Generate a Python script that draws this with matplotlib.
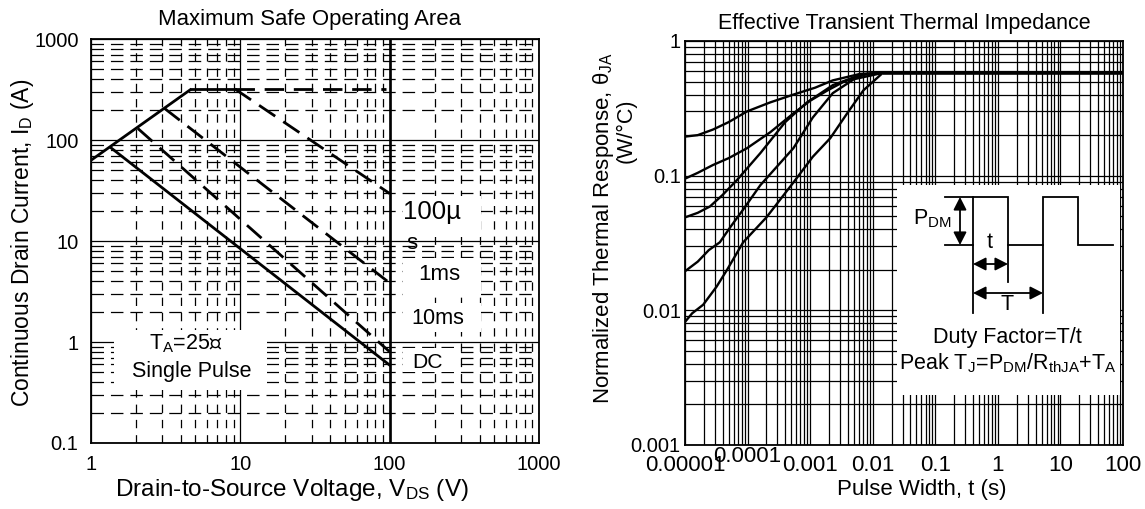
import matplotlib
matplotlib.use("Agg")
import matplotlib.pyplot as plt
from matplotlib.patches import Rectangle, FancyArrowPatch
from matplotlib.ticker import LogLocator, NullFormatter, FixedLocator, FixedFormatter
import matplotlib.transforms as mtransforms

plt.rcParams['font.family'] = ['Liberation Sans', 'DejaVu Sans']
plt.rcParams['lines.scale_dashes'] = False
plt.rcParams['mathtext.fontset'] = 'custom'
plt.rcParams['mathtext.rm'] = 'Liberation Sans'
plt.rcParams['mathtext.it'] = 'Liberation Sans'

# ---------------- data: Maximum Safe Operating Area ----------------
rds_v = [1.0, 4.7]
rds_i = [63, 320]
top_v = [4.7, 9.2]
top_i = [320, 320]
top_dash_v = [9.2, 95]
top_dash_i = [320, 320]
us100_v = [9.2, 100]
us100_i = [320, 29.5]
ms1_v = [3.1, 100]
ms1_i = [206, 3.84]
ms10_v = [2.06, 100]
ms10_i = [130, 0.80]
dc_v = [1.37, 100]
dc_i = [83, 0.59]
bvdss_v = 100

soa_xticks = [1, 10, 100, 1000]
soa_xlabels = ['1', '10', '100', '1000']
soa_yticks = [0.1, 1, 10, 100, 1000]
soa_ylabels = ['0.1', '1', '10', '100', '1000']

# ---------------- data: Transient Thermal Impedance ----------------
t_c1 = [1e-5, 1.6e-5, 2.8e-5, 5e-5, 9.8e-5, 2.3e-4, 5.4e-4, 1.2e-3, 2.3e-3, 6.3e-3, 1.45e-2]
z_c1 = [0.195, 0.20, 0.22, 0.25, 0.30, 0.35, 0.40, 0.45, 0.51, 0.57, 0.58]
t_c2 = [1e-5, 1.6e-5, 2.8e-5, 5e-5, 9.8e-5, 2.3e-4, 5.4e-4, 1.0e-3, 1.9e-3, 3.5e-3, 8.1e-3, 1.45e-2]
z_c2 = [0.095, 0.105, 0.12, 0.135, 0.16, 0.21, 0.29, 0.36, 0.43, 0.50, 0.57, 0.58]
t_c3 = [1e-5, 1.6e-5, 2.5e-5, 4e-5, 6.8e-5, 1.6e-4, 4.0e-4, 8.9e-4, 2.3e-3, 6.3e-3, 1.45e-2]
z_c3 = [0.049, 0.053, 0.059, 0.072, 0.093, 0.147, 0.25, 0.35, 0.47, 0.56, 0.58]
t_c4 = [1e-5, 1.6e-5, 2.4e-5, 3.6e-5, 5.4e-5, 8.5e-5, 1.6e-4, 5.4e-4, 1.1e-3, 2.3e-3, 5.0e-3, 1.45e-2]
z_c4 = [0.0195, 0.023, 0.028, 0.032, 0.042, 0.056, 0.085, 0.16, 0.27, 0.41, 0.52, 0.58]
t_c5 = [1e-5, 1.3e-5, 1.95e-5, 3.2e-5, 4.7e-5, 8.5e-5, 2.0e-4, 5.4e-4, 1.1e-3, 2.1e-3, 3.9e-3, 7.1e-3, 1.45e-2]
z_c5 = [0.0082, 0.0095, 0.011, 0.015, 0.020, 0.032, 0.049, 0.089, 0.138, 0.19, 0.29, 0.43, 0.58]
t_flat = [1.45e-2, 100]
z_flat = [0.58, 0.58]

zth_xticks = [1e-5, 1e-4, 1e-3, 1e-2, 1e-1, 1, 10, 100]
zth_xlabels = ['0.00001', '0.0001', '0.001', '0.01', '0.1', '1', '10', '100']
zth_yticks = [0.001, 0.01, 0.1, 1]
zth_ylabels = ['0.001', '0.01', '0.1', '1']

W, H = 1145, 509
fig = plt.figure(figsize=(W / 100, H / 100), dpi=100)

def fig_rect(x0, y0, x1, y1):
    return [x0 / W, 1 - y1 / H, (x1 - x0) / W, (y1 - y0) / H]

def fig_txt(px, py, s, **kw):
    fig.text(px / W, 1 - py / H, s, **kw)

TICK_FS = 14.5
TEXT_FS = 15.5

# ================= left panel =================
ax1 = fig.add_axes(fig_rect(91, 39, 539, 443))
ax1.set_xscale('log')
ax1.set_yscale('log')
ax1.set_xlim(1, 1000)
ax1.set_ylim(0.1, 1000)
ax1.xaxis.set_major_locator(FixedLocator(soa_xticks))
ax1.xaxis.set_major_formatter(FixedFormatter(soa_xlabels))
ax1.yaxis.set_major_locator(FixedLocator(soa_yticks))
ax1.yaxis.set_major_formatter(FixedFormatter(soa_ylabels))
for axis in (ax1.xaxis, ax1.yaxis):
    axis.set_minor_locator(LogLocator(base=10, subs=range(2, 10), numticks=50))
    axis.set_minor_formatter(NullFormatter())
ax1.tick_params(which='both', length=0)
ax1.tick_params(axis='x', labelsize=TICK_FS, pad=9)
ax1.tick_params(axis='y', labelsize=TICK_FS, pad=9)
ax1.grid(True, which='major', color='black', lw=0.9)
ax1.xaxis.grid(True, which='minor', color='black', lw=0.9, linestyle=(0, (6, 5)))
ax1.yaxis.grid(True, which='minor', color='black', lw=0.9, linestyle=(0, (9, 5)))
ax1.set_axisbelow(True)
for s in ax1.spines.values():
    s.set_linewidth(1.3)

LW = 2.0
DASH = (0, (14, 7))
ax1.plot(rds_v, rds_i, color='black', lw=LW, solid_capstyle='butt')
ax1.plot(top_v, top_i, color='black', lw=LW)
ax1.plot(top_dash_v, top_dash_i, color='black', lw=LW, linestyle=DASH)
ax1.plot(us100_v, us100_i, color='black', lw=LW, linestyle=DASH)
ax1.plot(ms1_v, ms1_i, color='black', lw=LW, linestyle=DASH)
ax1.plot(ms10_v, ms10_i, color='black', lw=LW, linestyle=DASH)
ax1.plot(dc_v, dc_i, color='black', lw=LW)
ax1.axvline(bvdss_v, color='black', lw=1.9)

def ax1_px(px, py):
    return ((px - 91) / 448, (443 - py) / 404)

def white_box(ax, conv, x0, y0, x1, y1):
    a = conv(x0, y1)
    b = conv(x1, y0)
    ax.add_patch(Rectangle(a, b[0] - a[0], b[1] - a[1], transform=ax.transAxes,
                           facecolor='white', edgecolor='none', zorder=3))

white_box(ax1, ax1_px, 114, 330, 267, 390)
white_box(ax1, ax1_px, 403, 196, 481, 237)
white_box(ax1, ax1_px, 403, 258, 481, 297)
white_box(ax1, ax1_px, 403, 303, 481, 332)
white_box(ax1, ax1_px, 403, 348, 458, 372)

def t1(px, py, s, fs=TEXT_FS, **kw):
    x, y = ax1_px(px, py)
    ax1.text(x, y, s, transform=ax1.transAxes, fontsize=fs, zorder=4,
             va='center', **kw)

t1(186, 344, 'T$_{\\mathregular{A}}$=25℃', ha='center')
t1(192, 371, 'Single Pulse', ha='center')
t1(403, 212, '100µ', fs=18.5, ha='left')
t1(406, 243, 's', fs=16, ha='left')
t1(439, 274, '1ms', fs=16, ha='center')
t1(438, 319, '10ms', fs=15.6, ha='center')
t1(428, 362, 'DC', fs=15.2, ha='center')

fig_txt(310, 19, 'Maximum Safe Operating Area', fontsize=15.9, ha='center', va='center')
fig_txt(292, 490, 'Drain-to-Source Voltage, V$_{\\mathregular{DS}}$ (V)', fontsize=17.5,
        ha='center', va='center')
fig_txt(23, 243, 'Continuous Drain Current, I$_{\\mathregular{D}}$ (A)', fontsize=16.5,
        rotation=90, ha='center', va='center')

# ================= right panel =================
ax2 = fig.add_axes(fig_rect(685, 41, 1123, 445))
ax2.set_xscale('log')
ax2.set_yscale('log')
ax2.set_xlim(1e-5, 100)
ax2.set_ylim(0.001, 1)
ax2.xaxis.set_major_locator(FixedLocator(zth_xticks))
ax2.xaxis.set_major_formatter(FixedFormatter(zth_xlabels))
ax2.yaxis.set_major_locator(FixedLocator(zth_yticks))
ax2.yaxis.set_major_formatter(FixedFormatter(zth_ylabels))
for axis in (ax2.xaxis, ax2.yaxis):
    axis.set_minor_locator(LogLocator(base=10, subs=range(2, 10), numticks=50))
    axis.set_minor_formatter(NullFormatter())
ax2.tick_params(which='both', length=0)
ax2.tick_params(axis='x', labelsize=16, pad=7)
ax2.tick_params(axis='y', labelsize=TICK_FS, pad=3)
ax2.grid(True, which='both', color='black', lw=0.9)
ax2.set_axisbelow(True)
for s in ax2.spines.values():
    s.set_linewidth(1.3)

CLW = 1.7
for tt, zz in [(t_c1, z_c1), (t_c2, z_c2), (t_c3, z_c3), (t_c4, z_c4), (t_c5, z_c5)]:
    ax2.plot(tt, zz, color='black', lw=CLW, solid_joinstyle='round')
ax2.plot(t_flat, z_flat, color='black', lw=2.6, solid_capstyle='butt')

for lbl in ax2.get_xticklabels():
    if lbl.get_text() == '0.0001':
        lbl.set_transform(lbl.get_transform() + mtransforms.ScaledTranslation(0, 9 / 100, fig.dpi_scale_trans))

def ax2_px(px, py):
    return ((px - 685) / 438, (445 - py) / 404)

white_box(ax2, ax2_px, 897, 185, 1120, 395)

def line2(pts, lw=1.3):
    xs = [ax2_px(p[0], p[1])[0] for p in pts]
    ys = [ax2_px(p[0], p[1])[1] for p in pts]
    ax2.plot(xs, ys, transform=ax2.transAxes, color='black', lw=lw, zorder=5,
             clip_on=False, solid_joinstyle='miter')

line2([(945, 245), (973, 245), (973, 197), (1008, 197), (1008, 245), (1043, 245),
       (1043, 197), (1078, 197), (1078, 245), (1113, 245)])
line2([(945, 197), (973, 197)])
line2([(973, 245), (973, 313)])
line2([(1008, 245), (1008, 282)])
line2([(1043, 245), (1043, 313)])

def arrow2(p0, p1):
    a = ax2_px(*p0)
    b = ax2_px(*p1)
    ax2.add_patch(FancyArrowPatch(a, b, transform=ax2.transAxes,
                                  arrowstyle='<|-|>,head_length=0.55,head_width=0.28',
                                  mutation_scale=14, color='black', lw=1.3,
                                  shrinkA=0, shrinkB=0, zorder=6))

arrow2((960, 197), (960, 245))
arrow2((973, 264), (1008, 264))
arrow2((973, 293), (1043, 293))

def t2(px, py, s, fs=TEXT_FS, **kw):
    x, y = ax2_px(px, py)
    ax2.text(x, y, s, transform=ax2.transAxes, fontsize=fs, zorder=7,
             va='center', **kw)

t2(932, 219, 'P$_{\\mathregular{DM}}$', ha='center')
t2(990, 243, 't', ha='center')
t2(1007, 304, 'T', ha='center')
t2(1007, 337, 'Duty Factor=T/t', ha='center')
t2(1008, 363, 'Peak T$_{\\mathregular{J}}$=P$_{\\mathregular{DM}}$/R$_{\\mathregular{thJA}}$+T$_{\\mathregular{A}}$', ha='center')

fig_txt(904, 23, 'Effective Transient Thermal Impedance', fontsize=15.5,
        ha='center', va='center')
fig_txt(922, 490, 'Pulse Width, t (s)', fontsize=16, ha='center', va='center')
fig_txt(603, 228, 'Normalized Thermal Response, θ$_{\\mathregular{JA}}$',
        rotation=90, ha='center', va='center', fontsize=16)
fig_txt(626, 131, '(W/°C)', rotation=90, ha='center', va='center', fontsize=15.5)

fig.savefig('out.png', dpi=100)
